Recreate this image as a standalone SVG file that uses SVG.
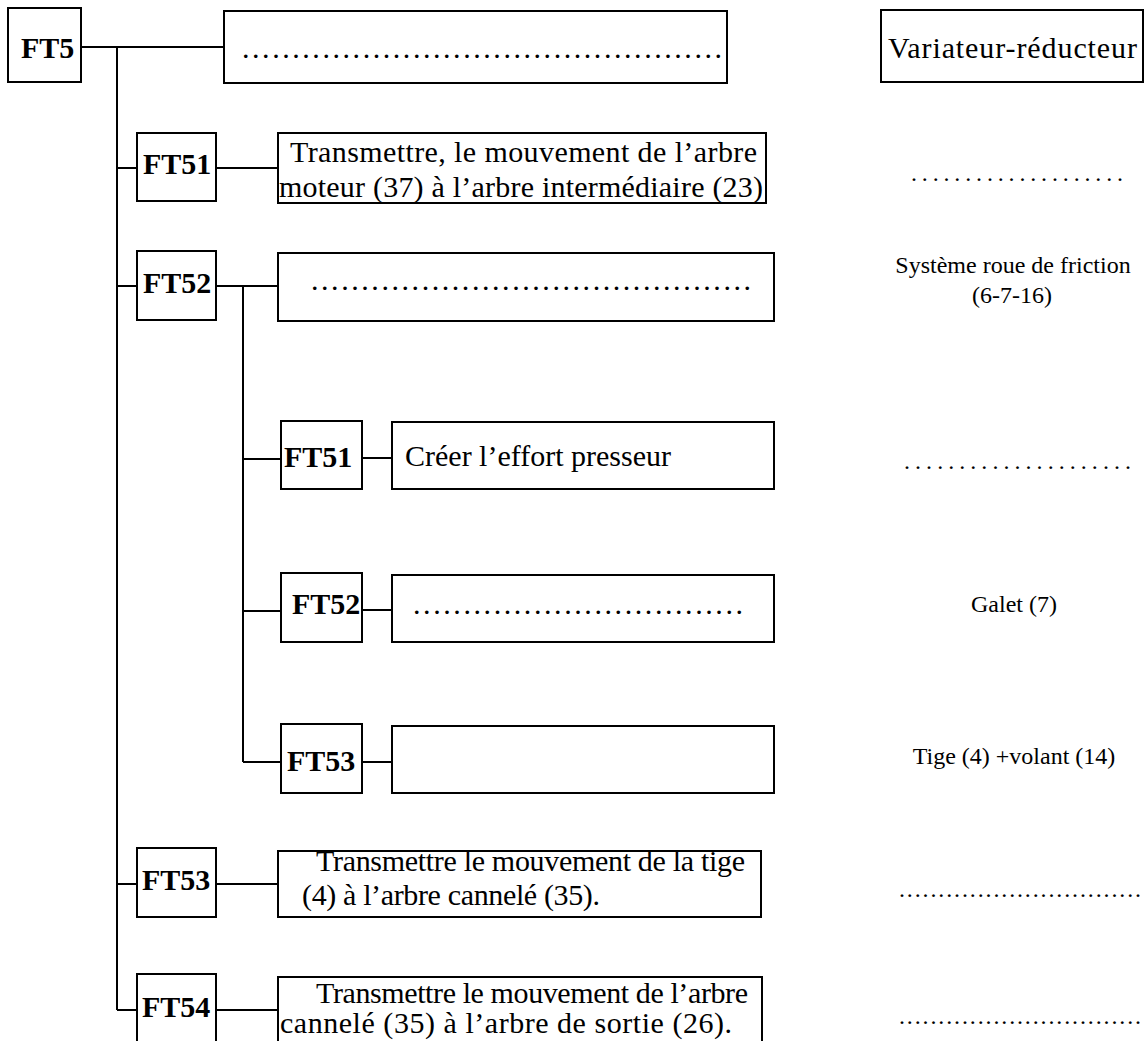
<svg xmlns="http://www.w3.org/2000/svg" width="1144" height="1041" viewBox="0 0 1144 1041">
<style>
.box{fill:#fff;stroke:#000;stroke-width:2}
.ln{stroke:#000;stroke-width:2;fill:none}
.lbl{font-family:"Liberation Serif","Times New Roman",serif;font-weight:bold;font-size:30px;fill:#000}
.t{font-family:"Liberation Serif","Times New Roman",serif;font-size:30px;fill:#000}
.s{font-family:"Liberation Serif","Times New Roman",serif;font-size:24px;fill:#000}
.d{font-family:"Liberation Serif","Times New Roman",serif;font-size:24px;fill:#000}
</style>
<rect width="1144" height="1041" fill="#fff"/>
<g id="connectors">
<line class="ln" x1="81" y1="47" x2="224" y2="47"/>
<line class="ln" x1="117" y1="47" x2="117" y2="1010"/>
<line class="ln" x1="117" y1="168" x2="137" y2="168"/>
<line class="ln" x1="216" y1="168" x2="278" y2="168"/>
<line class="ln" x1="117" y1="286" x2="137" y2="286"/>
<line class="ln" x1="216" y1="286" x2="278" y2="286"/>
<line class="ln" x1="243" y1="286" x2="243" y2="762"/>
<line class="ln" x1="243" y1="459" x2="281" y2="459"/>
<line class="ln" x1="362" y1="458" x2="392" y2="458"/>
<line class="ln" x1="243" y1="611" x2="281" y2="611"/>
<line class="ln" x1="362" y1="610" x2="392" y2="610"/>
<line class="ln" x1="243" y1="762" x2="281" y2="762"/>
<line class="ln" x1="362" y1="762" x2="392" y2="762"/>
<line class="ln" x1="117" y1="884" x2="137" y2="884"/>
<line class="ln" x1="216" y1="884" x2="278" y2="884"/>
<line class="ln" x1="117" y1="1010" x2="137" y2="1010"/>
<line class="ln" x1="216" y1="1010" x2="278" y2="1010"/>
</g>
<g id="FT5">
<rect class="box" x="8" y="8" width="73" height="74"/>
<text class="lbl" x="21" y="58">FT5</text>
</g>
<g id="FT5-function">
<rect class="box" x="224" y="11" width="503" height="72"/>
<text class="t" x="242" y="58" textLength="480" lengthAdjust="spacing">................................................</text>
</g>
<g id="FT5-solution">
<rect class="box" x="881" y="10" width="262" height="72"/>
<text class="t" x="888" y="58" textLength="249">Variateur-réducteur</text>
</g>
<g id="FT51">
<rect class="box" x="137" y="133" width="79" height="68"/>
<text class="lbl" x="143" y="174">FT51</text>
</g>
<g id="FT51-function">
<rect class="box" x="278" y="133" width="488" height="70"/>
<text class="t" x="290" y="162" textLength="467">Transmettre, le mouvement de l’arbre</text>
<text class="t" x="279" y="197" textLength="484">moteur (37) à l’arbre intermédiaire (23)</text>
</g>
<g id="FT51-solution">
<text class="d" x="911" y="181" textLength="212" lengthAdjust="spacing">....................</text>
</g>
<g id="FT52">
<rect class="box" x="137" y="251" width="79" height="69"/>
<text class="lbl" x="143" y="293">FT52</text>
</g>
<g id="FT52-function">
<rect class="box" x="278" y="253" width="496" height="68"/>
<text class="t" x="311" y="290" textLength="440" lengthAdjust="spacing">............................................</text>
</g>
<g id="FT52-solution">
<text class="s" x="1013" y="273" text-anchor="middle">Système roue de friction</text>
<text class="s" x="1012" y="303" text-anchor="middle">(6-7-16)</text>
</g>
<g id="FT521">
<rect class="box" x="281" y="421" width="81" height="68"/>
<text class="lbl" x="284" y="467">FT51</text>
</g>
<g id="FT521-function">
<rect class="box" x="392" y="422" width="382" height="67"/>
<text class="t" x="405" y="466">Créer l’effort presseur</text>
</g>
<g id="FT521-solution">
<text class="d" x="904" y="469" textLength="227" lengthAdjust="spacing">.....................</text>
</g>
<g id="FT522">
<rect class="box" x="281" y="573" width="81" height="69"/>
<text class="lbl" x="292" y="614">FT52</text>
</g>
<g id="FT522-function">
<rect class="box" x="392" y="575" width="382" height="67"/>
<text class="t" x="413" y="614" textLength="330" lengthAdjust="spacing">.................................</text>
</g>
<g id="FT522-solution">
<text class="s" x="1014" y="612" text-anchor="middle">Galet (7)</text>
</g>
<g id="FT523">
<rect class="box" x="281" y="724" width="81" height="69"/>
<text class="lbl" x="287" y="771">FT53</text>
</g>
<g id="FT523-function">
<rect class="box" x="392" y="726" width="382" height="67"/>
</g>
<g id="FT523-solution">
<text class="s" x="1014" y="764" text-anchor="middle">Tige (4) +volant (14)</text>
</g>
<g id="FT53">
<rect class="box" x="137" y="848" width="79" height="69"/>
<text class="lbl" x="142" y="890">FT53</text>
</g>
<g id="FT53-function">
<rect class="box" x="278" y="851" width="483" height="66"/>
<text class="t" x="316" y="871" textLength="429">Transmettre le mouvement de la tige</text>
<text class="t" x="302" y="905" textLength="298">(4) à l’arbre cannelé (35).</text>
</g>
<g id="FT53-solution">
<text class="d" x="899" y="897" textLength="242" lengthAdjust="spacing">...............................</text>
</g>
<g id="FT54">
<rect class="box" x="137" y="974" width="79" height="75"/>
<text class="lbl" x="142" y="1017">FT54</text>
</g>
<g id="FT54-function">
<rect class="box" x="278" y="977" width="484" height="72"/>
<text class="t" x="316" y="1003" textLength="432">Transmettre le mouvement de l’arbre</text>
<text class="t" x="280" y="1033" textLength="452">cannelé (35) à l’arbre de sortie (26).</text>
</g>
<g id="FT54-solution">
<text class="d" x="899" y="1024" textLength="242" lengthAdjust="spacing">...............................</text>
</g>
</svg>
